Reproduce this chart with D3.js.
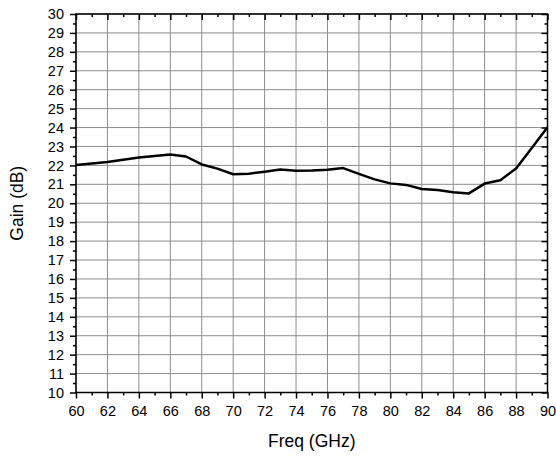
<!DOCTYPE html>
<html>
<head>
<meta charset="utf-8">
<script src="https://cdn.jsdelivr.net/npm/d3@7"></script>
<style>
  body { margin: 0; background: #fff; }
  text { font-family: "Liberation Sans", Arial, sans-serif; fill: #000; }
</style>
</head>
<body>
<div id="chart"></div>
<script>
// gain curve, one point per GHz
var freq = [60, 61, 62, 63, 64, 65, 66, 67, 68, 69, 70, 71, 72, 73, 74, 75,
            76, 77, 78, 79, 80, 81, 82, 83, 84, 85, 86, 87, 88, 89, 90];
var gain = [22.02, 22.1, 22.18, 22.3, 22.42, 22.5, 22.57, 22.47, 22.05, 21.83, 21.53, 21.56,
            21.67, 21.78, 21.72, 21.73, 21.77, 21.86, 21.55, 21.26, 21.05, 20.97, 20.75, 20.7,
            20.58, 20.52, 21.04, 21.22, 21.83, 22.92, 24.02];
var xTicks = d3.range(60, 91, 2);
var yTicks = d3.range(10, 31, 1);

var W = 556, H = 456;
var margin = {top: 14, right: 8.5, bottom: 63.5, left: 76},
    width = W - margin.left - margin.right,
    height = H - margin.top - margin.bottom;

var svg = d3.select("#chart")
  .append("svg")
  .attr("width", W)
  .attr("height", H)
  .append("g")
  .attr("transform", "translate(" + margin.left + "," + margin.top + ")");

var x = d3.scaleLinear().domain([60, 90]).range([0, width]);
var y = d3.scaleLinear().domain([10, 30]).range([height, 0]);

// grid
svg.append("g").selectAll("line")
  .data(xTicks)
  .enter().append("line")
  .attr("x1", function(d) { return x(d); })
  .attr("x2", function(d) { return x(d); })
  .attr("y1", 0).attr("y2", height)
  .style("stroke", "#8c8c8c").style("stroke-width", 1);
svg.append("g").selectAll("line")
  .data(yTicks)
  .enter().append("line")
  .attr("y1", function(d) { return y(d); })
  .attr("y2", function(d) { return y(d); })
  .attr("x1", 0).attr("x2", width)
  .style("stroke", "#8c8c8c").style("stroke-width", 1);

// axes: bottom/left outward, top/right inward
function styleAxis(g) {
  g.select(".domain").remove();
  g.selectAll(".tick line").style("stroke", "#000").style("stroke-width", 1.5);
  g.selectAll("text").style("font-size", "14.5px").style("font-family", "Liberation Sans, Arial, sans-serif");
}
var xMinor = d3.range(61, 90, 2);
var yMinor = d3.range(10.5, 30, 1);

svg.append("g")
  .attr("transform", "translate(0," + height + ")")
  .call(d3.axisBottom(x).tickValues(xTicks).tickSize(6).tickPadding(7).tickFormat(d3.format("d")))
  .call(styleAxis);
svg.append("g")
  .attr("transform", "translate(0," + height + ")")
  .call(d3.axisBottom(x).tickValues(xMinor).tickSize(3).tickFormat(""))
  .call(styleAxis);
svg.append("g")
  .call(d3.axisLeft(y).tickValues(yTicks).tickSize(6).tickPadding(6).tickFormat(d3.format("d")))
  .call(styleAxis);
svg.append("g")
  .call(d3.axisLeft(y).tickValues(yMinor).tickSize(3).tickFormat(""))
  .call(styleAxis);
svg.append("g")
  .call(d3.axisTop(x).tickValues(xTicks).tickSize(-6).tickFormat(""))
  .call(styleAxis);
svg.append("g")
  .call(d3.axisTop(x).tickValues(xMinor).tickSize(-3).tickFormat(""))
  .call(styleAxis);
svg.append("g")
  .attr("transform", "translate(" + width + ",0)")
  .call(d3.axisRight(y).tickValues(yTicks).tickSize(-6).tickFormat(""))
  .call(styleAxis);
svg.append("g")
  .attr("transform", "translate(" + width + ",0)")
  .call(d3.axisRight(y).tickValues(yMinor).tickSize(-3).tickFormat(""))
  .call(styleAxis);

// frame
svg.append("rect")
  .attr("width", width).attr("height", height)
  .style("fill", "none").style("stroke", "#000").style("stroke-width", 1.5);

// the curve
var line = d3.line()
  .x(function(d, i) { return x(freq[i]); })
  .y(function(d) { return y(d); });
svg.append("path")
  .datum(gain)
  .attr("d", line)
  .style("fill", "none")
  .style("stroke", "#000")
  .style("stroke-width", 2.5)
  .style("stroke-linejoin", "round");

// axis titles
svg.append("text")
  .attr("x", width / 2)
  .attr("y", height + 54)
  .style("text-anchor", "middle")
  .style("font-size", "17.5px")
  .text("Freq (GHz)");
svg.append("text")
  .attr("transform", "rotate(-90)")
  .attr("x", -height / 2)
  .attr("y", -53)
  .style("text-anchor", "middle")
  .style("font-size", "17.5px")
  .text("Gain (dB)");
</script>
</body>
</html>
